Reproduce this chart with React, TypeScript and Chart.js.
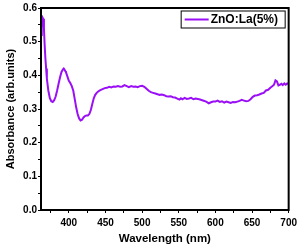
import React, { useEffect, useRef } from "react";
import { Chart, registerables } from "chart.js";

Chart.register(...registerables);

const wavelengths = [
  362, 363, 364, 365, 366, 367, 368, 369, 370, 372, 374, 376, 378, 380, 382, 384, 386, 388, 390, 392, 393, 394, 395, 396, 398,
  400, 402, 404, 406, 408, 410, 412, 414, 416, 418, 420, 422, 424, 426, 428, 430, 432, 434, 436, 438, 440, 443, 446, 449,
  452, 455, 458, 461, 464, 467, 470, 473, 476, 479, 482, 485, 488, 491, 494, 497, 500, 503, 506, 509, 512, 515, 518, 521,
  524, 527, 530, 533, 536, 539, 542, 545, 548, 551, 553, 555, 558, 561, 564, 567, 570, 573, 576, 579, 582, 585, 588, 591,
  594, 597, 600, 603, 606, 609, 612, 615, 618, 621, 624, 627, 630, 633, 636, 639, 642, 645, 648, 651, 654, 657, 660, 663,
  666, 669, 672, 675, 678, 680, 682, 684, 686, 688, 690, 692, 694, 696, 698, 700,
];

const absorbance = [
  0.52, 0.565, 0.572, 0.568, 0.54, 0.49, 0.45, 0.42, 0.39, 0.355, 0.333, 0.323, 0.321, 0.326, 0.337, 0.355, 0.375, 0.394,
  0.41, 0.418, 0.42, 0.417, 0.413, 0.41, 0.397, 0.384, 0.377, 0.368, 0.355, 0.33, 0.305, 0.285, 0.272, 0.266, 0.268, 0.275,
  0.279, 0.281, 0.281, 0.285, 0.297, 0.315, 0.332, 0.342, 0.348, 0.352, 0.356, 0.359, 0.362, 0.363, 0.366, 0.364, 0.367,
  0.366, 0.368, 0.366, 0.367, 0.371, 0.368, 0.365, 0.368, 0.366, 0.367, 0.365, 0.368, 0.369, 0.366, 0.36, 0.354, 0.35,
  0.348, 0.346, 0.344, 0.342, 0.343, 0.341, 0.338, 0.337, 0.338, 0.335, 0.334, 0.331, 0.328, 0.332, 0.329, 0.333, 0.33,
  0.331, 0.333, 0.329, 0.331, 0.33, 0.328, 0.326, 0.324, 0.321, 0.317, 0.32, 0.322, 0.322, 0.325, 0.321, 0.323, 0.319,
  0.322, 0.32, 0.318, 0.321, 0.32, 0.322, 0.324, 0.327, 0.325, 0.323, 0.324, 0.329, 0.336, 0.34, 0.341, 0.343, 0.346,
  0.348, 0.355, 0.357, 0.363, 0.368, 0.372, 0.385, 0.382, 0.37, 0.372, 0.375, 0.371, 0.376, 0.372, 0.376, 0.374,
];

const xTicks = [375, 400, 425, 450, 475, 500, 525, 550, 575, 600, 625, 650, 675, 700];
const yTicks = [0, 0.05, 0.1, 0.15, 0.2, 0.25, 0.3, 0.35, 0.4, 0.45, 0.5, 0.55, 0.6];

const seriesLabel = "ZnO:La(5%)";
const xTitle = "Wavelength (nm)";
const yTitle = "Absorbance (arb.units)";

const PURPLE = "#9a0ff5";
const FONT = "'Liberation Sans', Arial, sans-serif";

const framePlugin = {
  id: "frameAndLegend",
  afterDraw(chart: any) {
    const { ctx, chartArea } = chart;
    const { left, right, top, bottom } = chartArea;
    ctx.save();
    ctx.strokeStyle = "#000";
    ctx.lineWidth = 2;
    ctx.strokeRect(left, top, right - left, bottom - top);
    // legend
    const bx = right - 108;
    const by = top + 2.5;
    const bw = 104;
    const bh = 17;
    ctx.lineWidth = 1;
    ctx.fillStyle = "#fff";
    ctx.fillRect(bx, by, bw, bh);
    ctx.strokeRect(bx + 0.5, by + 0.5, bw, bh);
    ctx.strokeStyle = PURPLE;
    ctx.lineWidth = 2;
    ctx.beginPath();
    ctx.moveTo(bx + 4, by + bh / 2 + 0.5);
    ctx.lineTo(bx + 28, by + bh / 2 + 0.5);
    ctx.stroke();
    ctx.fillStyle = "#000";
    ctx.font = `bold 12px ${FONT}`;
    ctx.textBaseline = "middle";
    ctx.textAlign = "left";
    ctx.fillText(seriesLabel, bx + 30, by + bh / 2 + 1);
    ctx.restore();
  },
};

export default function App() {
  const ref = useRef<HTMLCanvasElement | null>(null);
  useEffect(() => {
    if (!ref.current) return;
    const data = wavelengths.map((w, i) => ({ x: w, y: absorbance[i] }));
    const chart = new Chart(ref.current, {
      type: "line",
      data: {
        datasets: [
          {
            label: seriesLabel,
            data,
            borderColor: PURPLE,
            borderWidth: 2,
            pointRadius: 0,
            tension: 0,
            fill: false,
          },
        ],
      },
      options: {
        responsive: false,
        animation: false,
        layout: { padding: { top: 8, right: 10, left: 0, bottom: 0 } },
        plugins: { legend: { display: false }, tooltip: { enabled: false } },
        scales: {
          x: {
            type: "linear",
            min: 362,
            max: 700,
            afterBuildTicks: (s: any) => {
              s.ticks = xTicks.map((v) => ({ value: v }));
            },
            afterFit: (s: any) => {
              s.height = 38;
            },
            border: { display: false },
            grid: { drawOnChartArea: false, drawTicks: true, tickLength: 3, color: "#000", lineWidth: 1 },
            ticks: {
              autoSkip: false,
              maxRotation: 0,
              padding: 4,
              color: "#000",
              font: { family: FONT, size: 10, weight: "bold" },
              callback: (v: any) => (Number(v) % 50 === 0 ? String(v) : ""),
            },
            title: {
              display: true,
              text: xTitle,
              color: "#000",
              font: { family: FONT, size: 11.5, weight: "bold" },
              padding: { top: 0, bottom: 2 },
            },
          },
          y: {
            type: "linear",
            min: 0,
            max: 0.6,
            afterBuildTicks: (s: any) => {
              s.ticks = yTicks.map((v) => ({ value: v }));
            },
            afterFit: (s: any) => {
              s.width = 41;
            },
            border: { display: false },
            grid: { drawOnChartArea: false, drawTicks: true, tickLength: 3, color: "#000", lineWidth: 1 },
            ticks: {
              autoSkip: false,
              padding: 1,
              color: "#000",
              font: { family: FONT, size: 10, weight: "bold" },
              callback: (v: any) => {
                const n = Math.round(Number(v) * 100);
                return n % 10 === 0 ? (n / 100).toFixed(1) : "";
              },
            },
            title: {
              display: true,
              text: yTitle,
              color: "#000",
              font: { family: FONT, size: 11, weight: "bold" },
              padding: { top: 4, bottom: 0 },
            },
          },
        },
      },
      plugins: [framePlugin],
    });
    return () => chart.destroy();
  }, []);
  return (
    <div style={{ position: "fixed", left: 0, top: 0, width: 301, height: 248, background: "#fff" }}>
      <canvas ref={ref} width={301} height={248} />
    </div>
  );
}
